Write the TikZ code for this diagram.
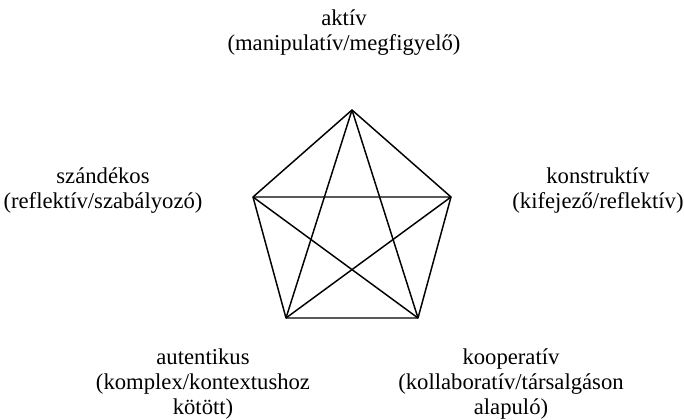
\documentclass[tikz,border=0pt]{standalone}
\usepackage{fontspec}
\setmainfont{Liberation Serif}
\usetikzlibrary{positioning}

\begin{document}
\begin{tikzpicture}[
    x=0.75pt, y=-0.75pt,
    dim/.style={align=center, font=\fontsize{17}{18.75}\selectfont, inner sep=0pt},
    edge/.style={line width=1.1pt, line join=round}
]
\useasboundingbox (0,0) rectangle (684,420);

% Corners of the pentagon
\coordinate (akt) at (352,110);
\coordinate (kon) at (451,197);
\coordinate (koo) at (418,318);
\coordinate (aut) at (286,318);
\coordinate (szd) at (253,197);

% Dimensions
\node[dim] (laktiv) at (344,33) {aktív\\(manipulatív/megfigyelő)};
\node[dim] (lkonstr) at (598,191) {konstruktív\\(kifejező/reflektív)};
\node[dim] (lkoop) at (511,384) {kooperatív\\(kollaboratív/társalgáson\\alapuló)};
\node[dim] (lautent) at (203,384) {autentikus\\(komplex/kontextushoz\\kötött)};
\node[dim] (lszand) at (103,191) {szándékos\\(reflektív/szabályozó)};

% Sides
\draw[edge] (akt) -- (kon) -- (koo) -- (aut) -- (szd) -- cycle;

% Diagonals
\draw[edge] (akt) -- (koo) (akt) -- (aut);
\draw[edge] (kon) -- (aut) (kon) -- (szd);
\draw[edge] (koo) -- (szd);

\end{tikzpicture}
\end{document}
